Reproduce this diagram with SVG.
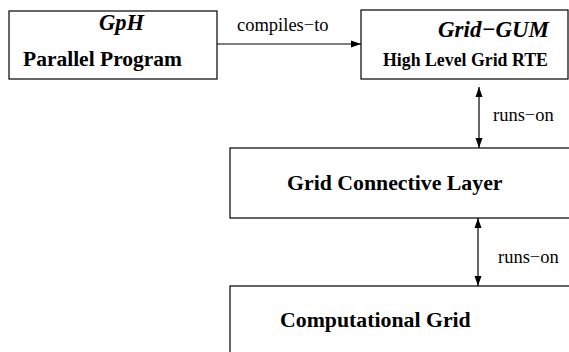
<svg xmlns="http://www.w3.org/2000/svg" width="569" height="352" viewBox="0 0 569 352">
<style>
.box{fill:#fff;stroke:#000;stroke-width:1.2}
.t{font-family:"Liberation Serif","Times New Roman",serif;fill:#000}
.b{font-weight:bold}
.i{font-style:italic}
.ln{stroke:#000;stroke-width:1.2;fill:none}
</style>
<defs>
<marker id="ah" viewBox="0 0 10 10" refX="10" refY="5" markerWidth="10" markerHeight="10" markerUnits="userSpaceOnUse" orient="auto-start-reverse">
<path d="M0,1.5 L10,5 L0,8.5 Z" fill="#000"/>
</marker>
</defs>
<rect width="569" height="352" fill="#fff"/>
<g id="gph">
<rect class="box" x="9" y="11" width="208" height="68"/>
<text class="t b i" x="99" y="30" font-size="22.5">GpH</text>
<text class="t b" x="23" y="66" font-size="21.5">Parallel Program</text>
</g>
<g id="gridgum">
<rect class="box" x="361" y="10" width="207" height="69"/>
<text class="t b i" x="438" y="37" font-size="23">Grid−GUM</text>
<text class="t b" x="383" y="66" font-size="17.8">High Level Grid RTE</text>
</g>
<g id="gcl">
<rect class="box" x="230" y="148" width="345" height="70"/>
<text class="t b" x="287" y="190" font-size="21.8">Grid Connective Layer</text>
</g>
<g id="cg">
<rect class="box" x="230" y="286" width="345" height="80"/>
<text class="t b" x="280" y="327" font-size="21.8">Computational Grid</text>
</g>
<g id="connectors">
<line class="ln" x1="217" y1="44" x2="361" y2="44" marker-end="url(#ah)"/>
<text class="t" x="237" y="31" font-size="18.5">compiles−to</text>
<line class="ln" x1="479" y1="87" x2="479" y2="148" marker-start="url(#ah)" marker-end="url(#ah)"/>
<text class="t" x="493" y="121" font-size="18.5">runs−on</text>
<line class="ln" x1="478" y1="218" x2="478" y2="286" marker-start="url(#ah)" marker-end="url(#ah)"/>
<text class="t" x="498" y="263" font-size="18.5">runs−on</text>
</g>
</svg>
